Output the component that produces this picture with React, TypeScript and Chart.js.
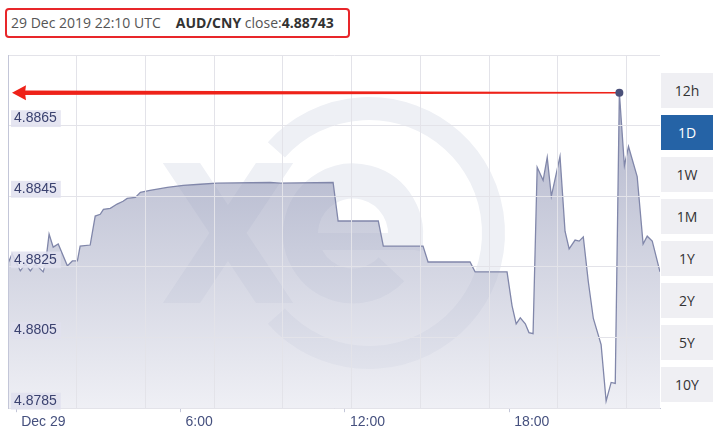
import React, { useEffect, useRef } from 'react';
import { Chart, registerables } from 'chart.js';

Chart.register(...registerables);

// minutes from Dec 29 00:00
const TIMES = [-18, -9, 9, 20, 31, 42, 59, 64, 72, 81, 92, 112, 123, 134, 140, 162, 173, 184, 191, 206, 221, 234, 243, 261, 272, 293, 331, 366, 403, 440, 556, 578, 694, 705, 793, 804, 891, 902, 994, 1005, 1075, 1086, 1095, 1104, 1115, 1123, 1132, 1141, 1154, 1163, 1172, 1191, 1202, 1211, 1224, 1233, 1242, 1253, 1264, 1281, 1292, 1303, 1312, 1321, 1332, 1341, 1360, 1373, 1382, 1393, 1410];
const RATES = [4.8826, 4.88287, 4.88239, 4.88258, 4.88239, 4.88258, 4.88236, 4.88258, 4.88343, 4.88306, 4.88315, 4.88253, 4.88267, 4.88267, 4.88309, 4.88312, 4.88394, 4.88399, 4.88413, 4.88416, 4.88428, 4.88436, 4.88444, 4.88447, 4.88461, 4.88467, 4.88475, 4.88481, 4.88484, 4.88487, 4.88489, 4.88487, 4.88489, 4.8838, 4.8838, 4.88309, 4.88309, 4.88264, 4.88264, 4.88236, 4.88236, 4.8814, 4.88089, 4.88106, 4.88089, 4.88064, 4.88061, 4.88532, 4.88495, 4.8856, 4.8845, 4.88563, 4.88351, 4.88301, 4.88326, 4.88323, 4.88335, 4.88208, 4.88104, 4.8803, 4.8787, 4.87923, 4.8792, 4.88743, 4.88537, 4.88591, 4.88506, 4.88315, 4.88337, 4.88323, 4.88236];

const X_MIN = -18;
const X_MAX = 1410;
const X_TICK_MINUTES = [0, 360, 720, 1080];
const X_TICK_LABELS = ['Dec 29', '6:00', '12:00', '18:00'];

const Y_MIN = 4.8785;
const Y_MAX = 4.8885;
const Y_TICK_LABELS = ['4.8785', '4.8805', '4.8825', '4.8845', '4.8865'];

const HEADER_TIME = '29 Dec 2019 22:10 UTC';
const PAIR = 'AUD/CNY';
const CLOSE_LABEL = 'close:';
const CLOSE_VALUE = '4.88743';

const RANGE_BUTTONS = ['12h', '1D', '1W', '1M', '1Y', '2Y', '5Y', '10Y'];
const ACTIVE_BUTTON = '1D';

const GRID_STEP = 150.5;

const PEAK_INDEX = RATES.indexOf(Math.max(...RATES));

const watermarkPlugin = {
  id: 'watermark',
  beforeDatasetsDraw(chart: any) {
    const ctx = chart.ctx;
    ctx.save();
    ctx.fillStyle = '#eef0f5';
    ctx.strokeStyle = '#eef0f5';
    // x
    ctx.save();
    ctx.beginPath();
    ctx.rect(150, 163, 160, 140);
    ctx.clip();
    ctx.lineWidth = 31;
    ctx.beginPath();
    ctx.moveTo(181.5 - 30, 163 - 45);
    ctx.lineTo(274.5 + 30, 303 + 45);
    ctx.moveTo(274.5 + 30, 163 - 45);
    ctx.lineTo(181.5 - 30, 303 + 45);
    ctx.stroke();
    ctx.restore();
    // e
    ctx.lineWidth = 35;
    ctx.beginPath();
    ctx.arc(353, 233.5, 52.5, 0.26, 0.75, true);
    ctx.stroke();
    ctx.fillRect(318, 233, 105, 17);
    // ring
    ctx.lineWidth = 23;
    ctx.beginPath();
    ctx.arc(369, 233, 124.5, -2.41, 2.41, false);
    ctx.stroke();
    ctx.restore();
  },
};

const arrowPlugin = {
  id: 'arrow',
  afterDraw(chart: any) {
    const meta = chart.getDatasetMeta(0);
    const pt = meta.data[PEAK_INDEX];
    if (!pt) return;
    const ctx = chart.ctx;
    const px = pt.x;
    const py = pt.y;
    const tip = chart.chartArea.left + 4;
    ctx.save();
    ctx.fillStyle = '#ee2219';
    ctx.beginPath();
    ctx.moveTo(tip + 12, py - 2.2);
    ctx.lineTo(px - 3, py - 0.7);
    ctx.lineTo(px - 3, py + 0.7);
    ctx.lineTo(tip + 12, py + 2.2);
    ctx.closePath();
    ctx.fill();
    ctx.beginPath();
    ctx.moveTo(tip, py);
    ctx.lineTo(tip + 14, py - 7.5);
    ctx.lineTo(tip + 13, py);
    ctx.lineTo(tip + 14, py + 7.5);
    ctx.closePath();
    ctx.fill();
    ctx.fillStyle = '#4a5079';
    ctx.beginPath();
    ctx.arc(px, py, 4, 0, Math.PI * 2);
    ctx.fill();
    ctx.restore();
  },
};

function ChartCanvas() {
  const ref = useRef<HTMLCanvasElement | null>(null);
  useEffect(() => {
    if (!ref.current) return;
    const data = TIMES.map((t, i) => ({ x: t, y: RATES[i] }));
    const chart = new Chart(ref.current, {
      type: 'line',
      data: {
        datasets: [
          {
            data,
            borderColor: '#8187aa',
            borderWidth: 1.3,
            tension: 0,
            pointRadius: 0,
            fill: 'start',
            backgroundColor: (c: any) => {
              const ca = c.chart.chartArea;
              if (!ca) return 'rgba(180,184,210,0.6)';
              const g = c.chart.ctx.createLinearGradient(0, ca.top, 0, ca.bottom);
              g.addColorStop(0, 'rgba(113,120,160,0.6)');
              g.addColorStop(1, 'rgba(228,229,238,0.6)');
              return g;
            },
          },
        ],
      },
      options: {
        responsive: false,
        animation: false,
        devicePixelRatio: 1,
        layout: { padding: { left: -4, top: 55, right: 1, bottom: 8 } },
        plugins: { legend: { display: false }, tooltip: { enabled: false } },
        scales: {
          x: {
            type: 'linear',
            min: X_MIN,
            max: X_MAX,
            afterBuildTicks: (scale: any) => {
              const t: any[] = [];
              for (let v = X_MIN; v <= X_MAX; v += GRID_STEP) t.push({ value: v });
              X_TICK_MINUTES.forEach((v) => t.push({ value: v }));
              t.sort((a, b) => a.value - b.value);
              scale.ticks = t;
            },
            border: { display: true, color: '#c3c6d8', z: 1 },
            grid: {
              z: 1,
              drawTicks: true,
              tickLength: 4,
              color: (c: any) => (c.tick && X_TICK_MINUTES.includes(c.tick.value) ? 'rgba(0,0,0,0)' : '#e3e3e9'),
              tickColor: (c: any) => (c.tick && X_TICK_MINUTES.includes(c.tick.value) ? '#c3c6d8' : 'rgba(0,0,0,0)'),
            },
            ticks: {
              z: 1,
              autoSkip: false,
              maxRotation: 0,
              align: 'start',
              labelOffset: 5,
              padding: 2,
              color: '#45507e',
              font: { family: "'Liberation Sans', Arial, sans-serif", size: 14 },
              callback: (v: any) => {
                const i = X_TICK_MINUTES.indexOf(v);
                return i >= 0 ? X_TICK_LABELS[i] : '';
              },
            },
          },
          y: {
            type: 'linear',
            min: Y_MIN,
            max: Y_MAX,
            afterBuildTicks: (scale: any) => {
              const t = Y_TICK_LABELS.map((l) => ({ value: parseFloat(l) }));
              t.push({ value: Y_MAX });
              scale.ticks = t;
            },
            border: { display: true, color: '#c3c6d8', z: 1 },
            grid: { z: 1, drawTicks: false, color: '#e3e3e9' },
            ticks: {
              z: 2,
              mirror: true,
              padding: 6,
              labelOffset: -7,
              color: '#3b4270',
              font: { family: "'Liberation Sans', Arial, sans-serif", size: 14 },
              showLabelBackdrop: true,
              backdropColor: (c: any) => (c.tick && c.tick.value > Y_MAX - 0.0005 ? 'rgba(0,0,0,0)' : 'rgba(224,225,238,0.85)'),
              backdropPadding: { top: 0, bottom: 0, left: 3, right: 4 },
              callback: (v: any) => {
                const l = Y_TICK_LABELS.find((s) => Math.abs(parseFloat(s) - v) < 1e-7);
                return l || '';
              },
            },
          },
        },
      } as any,
      plugins: [watermarkPlugin, arrowPlugin],
    });
    return () => chart.destroy();
  }, []);
  return <canvas ref={ref} width={661} height={441} style={{ position: 'absolute', left: 0, top: 0, width: 661, height: 441 }} />;
}

export default function App() {
  return (
    <div style={{ position: 'fixed', left: 0, top: 0, width: 720, height: 441, background: '#fff', overflow: 'hidden', fontFamily: "'Open Sans', sans-serif" }}>
      <ChartCanvas />
      <div
        style={{
          position: 'absolute',
          left: 5,
          top: 8,
          width: 345,
          height: 30,
          boxSizing: 'border-box',
          border: '2px solid #e8262a',
          borderRadius: 4,
          fontSize: 14,
          lineHeight: '26px',
          color: '#555',
          paddingLeft: 4,
          whiteSpace: 'nowrap',
          background: '#fff',
        }}
      >
        <span>{HEADER_TIME}</span>
        <span style={{ marginLeft: 15, fontWeight: 700, color: '#333' }}>{PAIR}</span>
        <span> {CLOSE_LABEL}</span>
        <span style={{ fontWeight: 700, color: '#333' }}>{CLOSE_VALUE}</span>
      </div>
      {RANGE_BUTTONS.map((b, i) => {
        const active = b === ACTIVE_BUTTON;
        return (
          <div
            key={b}
            style={{
              position: 'absolute',
              left: 661,
              top: 73 + i * 42,
              width: 52,
              height: 35,
              lineHeight: '35px',
              textAlign: 'center',
              fontSize: 14,
              background: active ? '#2563a6' : '#efeff3',
              color: active ? '#fff' : '#333',
            }}
          >
            {b}
          </div>
        );
      })}
    </div>
  );
}
